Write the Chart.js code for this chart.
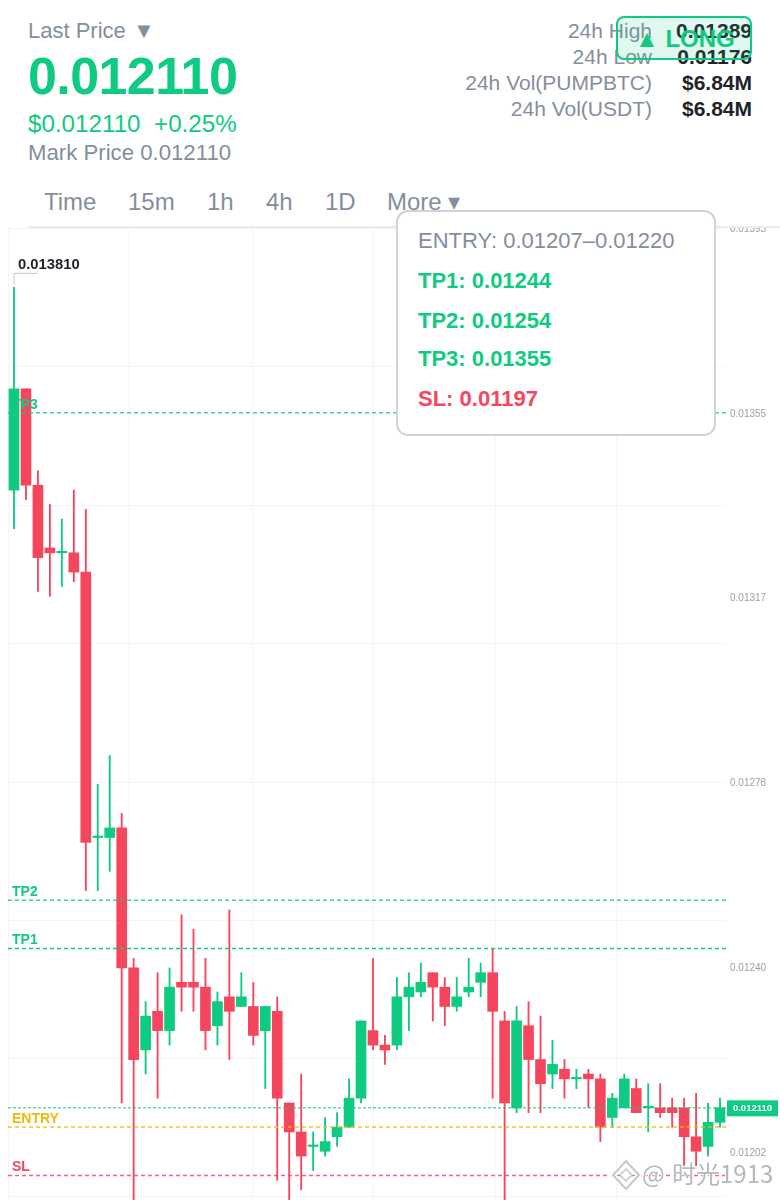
<!DOCTYPE html>
<html>
<head>
<meta charset="utf-8">
<title>PUMPBTC</title>
<script src="https://cdn.jsdelivr.net/npm/chart.js@4/dist/chart.umd.min.js"></script>
<style>
  html, body { margin: 0; padding: 0; background: #fff; }
  body { width: 780px; height: 1200px; position: relative; overflow: hidden; font-family: "Liberation Sans", Arial, sans-serif; color: #848e9c; }
  .abs { position: absolute; white-space: nowrap; line-height: 1; }
  .green { color: #0ecb81; }
  .red { color: #f6465d; }
  .dark { color: #1e2329; font-weight: bold; }
  .stat { font-size: 21px; }
  #chart { position: absolute; left: 0; top: 228px; }
  #tabline { position: absolute; left: 28px; right: 0; top: 226px; height: 2px; background: #eaecef; }
  #popup { position: absolute; left: 396px; top: 210px; width: 316px; height: 222px; background: #fff; border: 2px solid #d0d4da; border-radius: 12px; }
  #badge { position: absolute; left: 616px; top: 16px; width: 132px; height: 40px; border: 2px solid #0ecb81; border-radius: 8px; background: rgba(14, 203, 129, 0.13); }
  #logo { position: absolute; left: 610px; top: 1158px; }
  .mark { color: #b4b8bf; text-shadow: 1px 1px 1px #fff, -1px -1px 1px #fff; font-family: "Noto Sans CJK SC", sans-serif; }
</style>
</head>
<body>
<div class="abs" style="left:28px;top:20px;font-size:22px">Last Price</div>
<div class="abs" style="left:133px;top:20px;font-size:22px">▼</div>
<div class="abs green" style="left:28px;top:50px;font-size:52px;font-weight:bold;letter-spacing:-0.6px">0.012110</div>
<div class="abs green" style="left:28px;top:112px;font-size:24.2px">$0.012110</div>
<div class="abs green" style="left:154px;top:112px;font-size:24.2px">+0.25%</div>
<div class="abs" style="left:28px;top:142px;font-size:22.2px">Mark Price 0.012110</div>

<div class="abs stat" style="right:128px;top:20px">24h High</div>
<div class="abs stat dark" style="right:28px;top:20px">0.01389</div>
<div class="abs stat" style="right:128px;top:46px">24h Low</div>
<div class="abs stat dark" style="right:28px;top:46px">0.01176</div>
<div class="abs stat" style="right:128px;top:72px">24h Vol(PUMPBTC)</div>
<div class="abs stat dark" style="right:28px;top:72px">$6.84M</div>
<div class="abs stat" style="right:128px;top:98px">24h Vol(USDT)</div>
<div class="abs stat dark" style="right:28px;top:98px">$6.84M</div>
<div id="badge"></div>
<div class="abs green" style="left:635px;top:27px;font-size:24px;font-weight:bold">▲ LONG</div>

<div class="abs" style="left:44px;top:190px;font-size:24px">Time</div>
<div class="abs" style="left:128px;top:190px;font-size:24px">15m</div>
<div class="abs" style="left:207px;top:190px;font-size:24px">1h</div>
<div class="abs" style="left:266px;top:190px;font-size:24px">4h</div>
<div class="abs" style="left:325px;top:190px;font-size:24px">1D</div>
<div class="abs" style="left:387px;top:190px;font-size:24px">More ▾</div>
<div id="tabline"></div>

<canvas id="chart" width="780" height="972"></canvas>

<div id="popup"></div>
<div class="abs" style="left:418px;top:230px;font-size:22px">ENTRY: 0.01207–0.01220</div>
<div class="abs green" style="left:418px;top:270px;font-size:22px;font-weight:bold">TP1: 0.01244</div>
<div class="abs green" style="left:418px;top:310px;font-size:22px;font-weight:bold">TP2: 0.01254</div>
<div class="abs green" style="left:418px;top:348px;font-size:22px;font-weight:bold">TP3: 0.01355</div>
<div class="abs red" style="left:418px;top:388px;font-size:22px;font-weight:bold">SL: 0.01197</div>

<svg id="logo" width="32" height="34" viewBox="0 0 32 34">
  <path d="M16 3 L29 17 L16 31 L3 17 Z" fill="none" stroke="#fff" stroke-width="5"/>
  <path d="M16 3 L29 17 L16 31 L3 17 Z" fill="none" stroke="#c4c8ce" stroke-width="2"/>
  <path d="M16 11 L22 17 L16 23 L10 17 Z" fill="#fff" stroke="#c4c8ce" stroke-width="1.5"/>
</svg>
<div class="abs mark" style="left:642px;top:1161px;font-size:24px">@</div>
<div class="abs mark" style="left:672px;top:1161px;font-size:24px">时光1913</div>

<script>
// in units of 0.00001
const opens  = [1339,1360,1340,1327,1326,1326,1322,1267,1267,1269,1240,1223,1231,1227,1237,1237,1236,1228,1234,1232,1232,1227,1231,1212,1206,1203,1202,1205,1207,1213,1227,1224,1224,1234,1235,1239,1236,1232,1235,1237,1239,1229,1211,1228,1221,1218,1219,1217,1218,1217,1209,1211,1215,1211,1211,1211,1211,1205,1203,1208]
const closes = [1360,1340,1325,1326,1326,1322,1266,1267,1269,1240,1221,1230,1227,1236,1236,1236,1227,1233,1231,1234,1226,1232,1213,1206,1201,1203,1204,1207,1213,1229,1224,1223,1234,1236,1237,1236,1232,1234,1236,1239,1231,1212,1229,1221,1216,1220,1217,1217,1217,1207,1213,1217,1210,1211,1210,1210,1205,1202,1208,1211]
const highs  = [1381,1360,1343,1336,1333,1339,1335,1278,1284,1272,1242,1233,1239,1240,1251,1248,1242,1235,1252,1239,1237,1232,1234,1212,1218,1206,1209,1210,1217,1229,1242,1226,1238,1239,1241,1239,1238,1238,1242,1241,1244,1231,1232,1233,1230,1225,1221,1219,1219,1218,1214,1218,1217,1216,1216,1213,1213,1214,1212,1213]
const lows   = [1331,1337,1318,1317,1319,1320,1256,1256,1260,1212,1187,1218,1213,1224,1231,1231,1223,1224,1221,1232,1224,1215,1196,1187,1194,1198,1201,1203,1207,1212,1223,1220,1223,1227,1234,1229,1228,1231,1234,1234,1213,1187,1210,1210,1210,1215,1213,1215,1211,1204,1207,1211,1210,1206,1209,1207,1199,1199,1201,1207]

const candleIndex = opens.map((_, i) => i)

const priceTicks = [1393.3, 1355, 1316.7, 1278.4, 1240.1, 1201.8]
const gridPrices = [1393.3, 1364.6, 1335.9, 1307.2, 1278.5, 1249.8, 1221.2, 1192.6]
const timeGrid = [-0.5, 9.69, 19.89, 30.04, 40.2, 50.39]

const levels = [
  { name: "TP3", price: 1355, color: "rgba(14, 203, 129, 0.8)" },
  { name: "TP2", price: 1254, color: "rgba(14, 203, 129, 0.8)" },
  { name: "TP1", price: 1244, color: "#0ecb81" },
  { name: "ENTRY", price: 1207, color: "rgba(240, 185, 11, 0.65)" },
  { name: "SL", price: 1197, color: "rgba(246, 70, 93, 0.85)" }
]
const lastPrice = 1211
const topPrice = 1381

const GREEN = "#0ecb81"
const RED = "#f6465d"
const candleColor = ctx => closes[ctx.dataIndex] >= opens[ctx.dataIndex] ? GREEN : RED

const levelLines = {
  id: "levelLines",
  afterDatasetsDraw(chart) {
    const { ctx, chartArea, scales: { x, y } } = chart
    ctx.save()
    levels.forEach(l => {
      const py = y.getPixelForValue(l.price)
      ctx.strokeStyle = l.color
      ctx.lineWidth = l.name === "ENTRY" ? 2 : 1.5
      ctx.setLineDash([4, 3])
      ctx.beginPath()
      ctx.moveTo(chartArea.left, py)
      ctx.lineTo(chartArea.right, py)
      ctx.stroke()
      ctx.setLineDash([])
      ctx.fillStyle = l.color.startsWith("#") ? l.color : l.color.replace(/[\d.]+\)$/, "1)")
      ctx.font = "bold 14px 'Liberation Sans'"
      ctx.textBaseline = "bottom"
      ctx.textAlign = "left"
      ctx.fillText(l.name, 12, py - 1)
    })

    // last price
    const lastY = y.getPixelForValue(lastPrice)
    ctx.strokeStyle = GREEN
    ctx.lineWidth = 1
    ctx.setLineDash([3, 2])
    ctx.beginPath()
    ctx.moveTo(chartArea.left, lastY)
    ctx.lineTo(chartArea.right, lastY)
    ctx.stroke()
    ctx.setLineDash([])
    ctx.fillStyle = GREEN
    ctx.fillRect(727, lastY - 7.5, 51, 16)
    ctx.fillStyle = "#fff"
    ctx.font = "bold 9.5px 'Liberation Sans'"
    ctx.textAlign = "center"
    ctx.textBaseline = "middle"
    ctx.fillText((lastPrice / 100000).toFixed(6), 752.5, lastY + 1)

    // high marker
    const hx = x.getPixelForValue(0)
    const hy = y.getPixelForValue(topPrice)
    ctx.strokeStyle = "#c4c8ce"
    ctx.lineWidth = 1
    ctx.beginPath()
    ctx.moveTo(hx, hy - 2)
    ctx.lineTo(hx, hy - 14)
    ctx.lineTo(hx + 24, hy - 14)
    ctx.stroke()
    ctx.fillStyle = "#1e2329"
    ctx.font = "bold 14.8px 'Liberation Sans'"
    ctx.textAlign = "left"
    ctx.textBaseline = "bottom"
    ctx.fillText((topPrice / 100000).toFixed(6), 18, hy - 15)
    ctx.restore()
  }
}

new Chart(document.getElementById("chart"), {
  type: "bar",
  data: {
    labels: candleIndex,
    datasets: [
      {
        label: "wick",
        data: candleIndex.map(i => [lows[i], highs[i]]),
        backgroundColor: candleColor,
        barThickness: 1.2,
        grouped: false,
        order: 2
      },
      {
        label: "body",
        data: candleIndex.map(i => [opens[i], closes[i]]),
        backgroundColor: candleColor,
        barThickness: 10,
        minBarLength: 1.5,
        grouped: false,
        order: 1
      }
    ]
  },
  plugins: [levelLines],
  options: {
    responsive: false,
    animation: false,
    layout: { padding: { left: 8, top: 0, right: 0, bottom: 0 } },
    plugins: { legend: { display: false }, tooltip: { enabled: false } },
    scales: {
      x: {
        type: "linear",
        offset: false,
        min: -0.5,
        max: 59.5,
        afterBuildTicks: axis => { axis.ticks = timeGrid.map(value => ({ value })) },
        ticks: { display: false },
        border: { display: false },
        grid: { offset: false, color: "#f3f4f6", drawTicks: false }
      },
      y: {
        position: "right",
        min: 1191.9,
        max: 1393.3,
        afterBuildTicks: axis => {
          const all = [...new Set([...gridPrices, ...priceTicks])].sort((a, b) => a - b)
          axis.ticks = all.map(value => ({ value }))
        },
        afterFit: axis => {
          axis.width = 54
          axis.paddingTop = 0
          axis.paddingBottom = 0
        },
        border: { display: false },
        grid: {
          drawTicks: false,
          color: ctx => gridPrices.includes(ctx.tick.value) ? "#f3f4f6" : "transparent"
        },
        ticks: {
          autoSkip: false,
          padding: 4,
          labelOffset: 1,
          color: "#9aa1ac",
          font: { size: 10, family: "'Liberation Sans'" },
          callback: value => priceTicks.includes(value) ? (Math.round(value) / 100000).toFixed(5) : ""
        }
      }
    }
  }
})
</script>
</body>
</html>
